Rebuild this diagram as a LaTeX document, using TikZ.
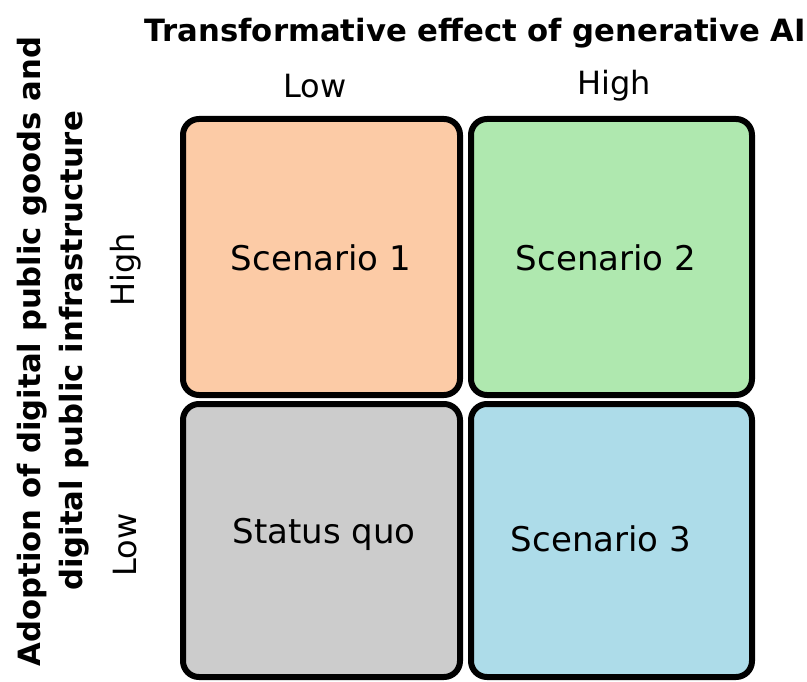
\documentclass[tikz,border=0pt]{standalone}
\usepackage{fontspec}
\setmainfont{DejaVu Sans}
\begin{document}
\begin{tikzpicture}[x=1pt,y=-1pt,
  cell/.style={draw=black, line width=6pt, rounded corners=16pt},
  lbl/.style={inner sep=0pt, anchor=base, font=\fontsize{32}{38}\selectfont},
  axis/.style={inner sep=0pt, anchor=base, font=\fontsize{30.7}{36}\selectfont\bfseries},
  cellname/.style={inner sep=0pt, anchor=base, font=\fontsize{34}{40}\selectfont}
]
\definecolor{peach}{RGB}{252,203,166}
\definecolor{mint}{RGB}{175,232,175}
\definecolor{sky}{RGB}{173,220,233}
\definecolor{stone}{RGB}{204,204,204}
\useasboundingbox (0,0) rectangle (807,682);

% quadrant boxes
\draw[cell, fill=peach] (183,119) rectangle (460,395);
\draw[cell, fill=mint]  (471,119) rectangle (752,395);
\draw[cell, fill=stone] (183,404) rectangle (460,677);
\draw[cell, fill=sky]   (471,404) rectangle (752,677);

% quadrant names
\node[cellname] (s1) at (321,270) {Scenario 1};
\node[cellname] (s2) at (606,270) {Scenario 2};
\node[cellname] (sq) at (324,543) {Status quo};
\node[cellname] (s3) at (601,551) {Scenario 3};

% horizontal axis
\node[axis] (xt) at (475.5,42) {Transformative effect of generative AI};
\node[lbl] (xlo) at (315,98) {Low};
\node[lbl] (xhi) at (614,95) {High};

% vertical axis
\node[axis, rotate=90] (yt1) at (40,351.5) {Adoption of digital public goods and};
\node[axis, rotate=90] (yt2) at (82,351) {digital public infrastructure};
\node[lbl, rotate=90] (yhi) at (134,270) {High};
\node[lbl, rotate=90] (ylo) at (136,545) {Low};
\end{tikzpicture}
\end{document}
